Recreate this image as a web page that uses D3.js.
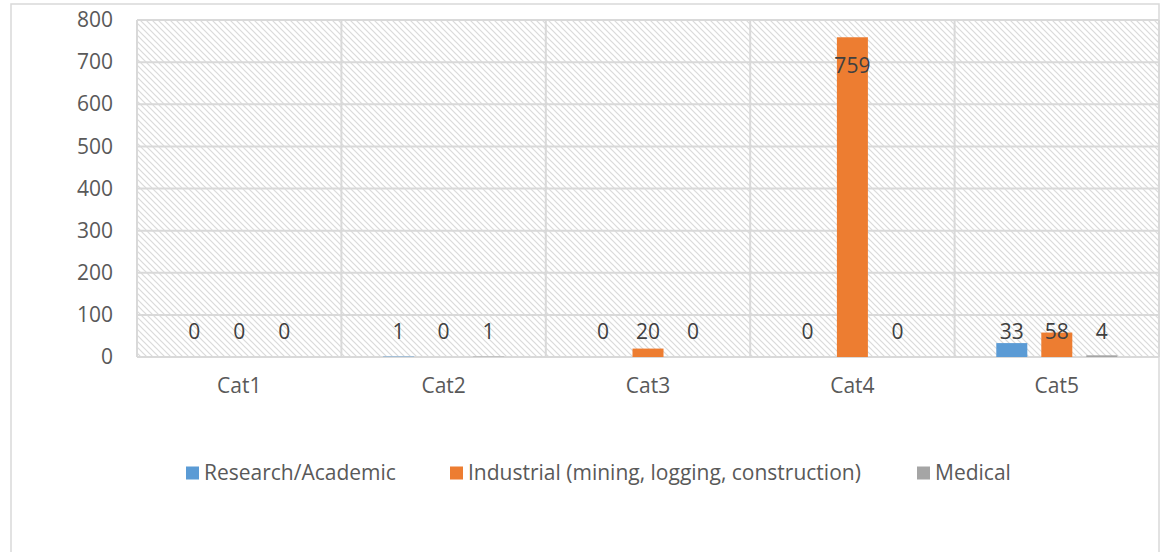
<!DOCTYPE html>
<html><head><meta charset="utf-8">
<script src="https://cdn.jsdelivr.net/npm/d3@7"></script>
<style>
html,body{margin:0;padding:0;background:#fff;}
svg{display:block;font-family:"Open Sans",sans-serif;}
</style></head>
<body>
<svg id="chart" width="1162" height="552"></svg>
<script>
const categories = ["Cat1","Cat2","Cat3","Cat4","Cat5"];
const seriesNames = ["Research/Academic","Industrial (mining, logging, construction)","Medical"];
const researchValues = [0,1,0,0,33];
const industrialValues = [0,0,20,759,58];
const medicalValues = [0,1,0,0,4];
const yTicks = [0,100,200,300,400,500,600,700,800];
const colors = ["#5B9BD5","#ED7D31","#A5A5A5"];

const seriesValues = [researchValues, industrialValues, medicalValues];
const svg = d3.select("#chart");
const FS = 21;

const plot = {left:137, right:1159, top:20, bottom:357};
const x = d3.scaleBand().domain(categories).range([plot.left, plot.right]).paddingInner(0).paddingOuter(0);
const y = d3.scaleLinear().domain([0,800]).range([plot.bottom, plot.top]);
const bw = x.bandwidth();
const groupW = 135;
const xSub = d3.scaleBand().domain(seriesNames).range([(bw-groupW)/2,(bw+groupW)/2]).paddingInner(14/45).paddingOuter(7/45);

// outer frame
svg.append("rect").attr("x",11).attr("y",4).attr("width",1148).attr("height",570)
  .attr("fill","#fff").attr("stroke","#d9d9d9").attr("stroke-width",1.5);

// hatch pattern
const defs = svg.append("defs");
const pat = defs.append("pattern").attr("id","hatch").attr("patternUnits","userSpaceOnUse")
  .attr("width",6).attr("height",6);
pat.append("rect").attr("width",6).attr("height",6).attr("fill","#fff");
pat.append("path").attr("d","M-1,-1 L7,7 M-1,5 L1,7 M5,-1 L7,1")
  .attr("stroke","#dadada").attr("stroke-width",1.2);

svg.append("rect").attr("x",plot.left).attr("y",plot.top)
  .attr("width",plot.right-plot.left).attr("height",plot.bottom-plot.top)
  .attr("fill","url(#hatch)");

// gridlines
const grid = svg.append("g").attr("stroke","#d9d9d9").attr("stroke-width",2);
grid.selectAll("line.h").data(yTicks).join("line")
  .attr("x1",plot.left).attr("x2",plot.right)
  .attr("y1",d=>y(d)).attr("y2",d=>y(d));
const vBounds = categories.map(c=>x(c)).concat([plot.right]);
grid.selectAll("line.v").data(vBounds).join("line")
  .attr("x1",d=>d).attr("x2",d=>d)
  .attr("y1",plot.top).attr("y2",plot.bottom);

// y axis
const yAxis = d3.axisLeft(y).tickValues(yTicks).tickSize(0).tickPadding(24);
const ya = svg.append("g").attr("transform",`translate(${plot.left},0)`).call(yAxis);
ya.select(".domain").remove();
ya.selectAll("text").attr("font-size",FS).attr("fill","#595959").attr("font-family","Open Sans");

// x axis labels
const xAxis = d3.axisBottom(x).tickSize(0).tickPadding(21);
const xa = svg.append("g").attr("transform",`translate(0,${plot.bottom})`).call(xAxis);
xa.select(".domain").remove();
xa.selectAll("text").attr("font-size",FS).attr("fill","#595959").attr("font-family","Open Sans");

// bars
const groups = svg.append("g").selectAll("g").data(categories).join("g")
  .attr("transform",c=>`translate(${x(c)},0)`);
const cells = (c,i)=>seriesNames.map((s,k)=>({s,k,v:seriesValues[k][i]}));
groups.each(function(c,i){
  const g = d3.select(this);
  const data = cells(c,i);
  g.selectAll("rect").data(data).join("rect")
    .attr("x",d=>xSub(d.s)).attr("width",xSub.bandwidth())
    .attr("y",d=>y(d.v)).attr("height",d=>y(0)-y(d.v))
    .attr("fill",d=>colors[d.k]);
  g.selectAll("text").data(data).join("text")
    .attr("x",d=>xSub(d.s)+xSub.bandwidth()/2)
    .attr("y",d=>Math.min(y(d.v)+28, y(0)-25))
    .attr("dy","0.35em")
    .attr("text-anchor","middle")
    .attr("font-size",FS).attr("fill","#404040")
    .text(d=>d.v);
});

// legend
const legendItems = [
  {name:seriesNames[0], x:186},
  {name:seriesNames[1], x:450},
  {name:seriesNames[2], x:917}
];
const lg = svg.append("g").selectAll("g").data(legendItems).join("g")
  .attr("transform",d=>`translate(${d.x},473)`);
lg.append("rect").attr("x",0).attr("y",-6.5).attr("width",13).attr("height",13)
  .attr("fill",(d,i)=>colors[i]);
lg.append("text").attr("x",18).attr("dy","0.35em").attr("font-size",FS)
  .attr("fill","#595959").text(d=>d.name);
</script>
</body></html>
